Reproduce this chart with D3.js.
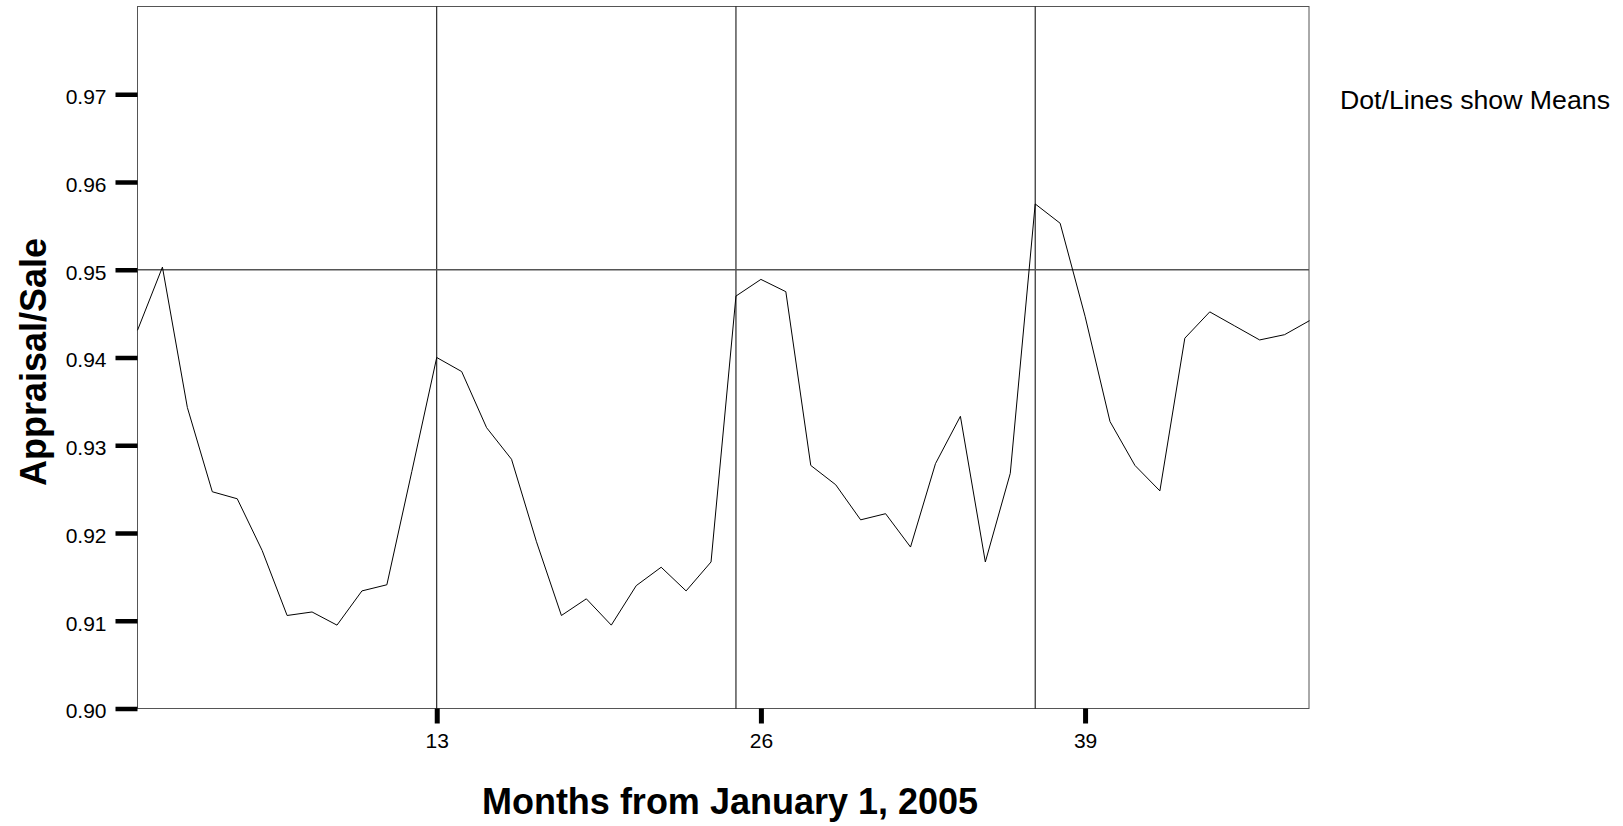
<!DOCTYPE html>
<html>
<head>
<meta charset="utf-8">
<script src="https://cdn.jsdelivr.net/npm/d3@7"></script>
<style>
  html, body { margin: 0; padding: 0; background: #fff; }
  svg { display: block; }
  text { font-family: "Liberation Sans", Arial, Helvetica, sans-serif; fill: #000; }
</style>
</head>
<body>
<svg id="chart" width="1623" height="826"></svg>
<script>
// ---- data ----
const months = d3.range(1, 49);
const ratio = [
  0.9431, 0.9503, 0.9343, 0.9247, 0.9239, 0.9180, 0.9106, 0.9110, 0.9095, 0.9134,
  0.9141, 0.9270, 0.9400, 0.9384, 0.9320, 0.9284, 0.9190, 0.9106, 0.9125, 0.9095,
  0.9140, 0.9161, 0.9134, 0.9167, 0.9470, 0.9489, 0.9475, 0.9277, 0.9255, 0.9215,
  0.9222, 0.9184, 0.9279, 0.9333, 0.9167, 0.9268, 0.9575, 0.9553, 0.9447, 0.9327,
  0.9277, 0.9248, 0.9422, 0.9452, 0.9436, 0.9420, 0.9426, 0.9442
];
const yTicks = [0.90, 0.91, 0.92, 0.93, 0.94, 0.95, 0.96, 0.97];
const xTicks = [13, 26, 39];
const vRefs = [13, 25, 37];
const hRefs = [0.95];
const yTitle = "Appraisal/Sale";
const xTitle = "Months from January 1, 2005";
const note = "Dot/Lines show Means";

// ---- layout ----
const L = 137.5, R = 1309, T = 6.5, B = 708.5;
const svg = d3.select("#chart");
const x = d3.scaleLinear().domain([1, 48]).range([L, R + 0.5]);
const y = d3.scaleLinear().domain([0.90, 0.98]).range([B, T]);

// frame
svg.append("rect")
  .attr("x", L).attr("y", T).attr("width", R - L).attr("height", B - T)
  .attr("fill", "none").attr("stroke", "#555").attr("stroke-width", 1);

// reference lines
svg.selectAll("line.vref").data(vRefs).enter().append("line")
  .attr("class", "vref")
  .attr("x1", d => x(d)).attr("x2", d => x(d))
  .attr("y1", T).attr("y2", B)
  .attr("stroke", "#000").attr("stroke-width", 1);

svg.selectAll("line.href").data(hRefs).enter().append("line")
  .attr("class", "href")
  .attr("x1", L).attr("x2", R)
  .attr("y1", d => y(d)).attr("y2", d => y(d))
  .attr("stroke", "#555").attr("stroke-width", 1.4);

// data line
const line = d3.line().x((d, i) => x(months[i])).y(d => y(d));
svg.append("path")
  .datum(ratio)
  .attr("d", line)
  .attr("fill", "none")
  .attr("stroke", "#000")
  .attr("stroke-width", 1);

// y axis
const yAxis = d3.axisLeft(y).tickValues(yTicks).tickFormat(d3.format(".2f"))
  .tickSize(22).tickPadding(9);
const gy = svg.append("g").attr("transform", `translate(${L},0)`).call(yAxis);
gy.select(".domain").remove();
gy.selectAll(".tick line").attr("stroke", "#000").attr("stroke-width", 4.5);
gy.selectAll(".tick text").attr("font-size", 21).attr("dy", "0.45em")
  .style("font-family", "'Liberation Sans', Arial, sans-serif").attr("fill", "#000");

// x axis
const xAxis = d3.axisBottom(x).tickValues(xTicks).tickFormat(d3.format("d"))
  .tickSize(15).tickPadding(10);
const gx = svg.append("g").attr("transform", `translate(0,${B})`).call(xAxis);
gx.select(".domain").remove();
gx.selectAll(".tick line").attr("stroke", "#000").attr("stroke-width", 5);
gx.selectAll(".tick text").attr("font-size", 21)
  .style("font-family", "'Liberation Sans', Arial, sans-serif").attr("fill", "#000");

// titles
svg.append("text")
  .attr("x", 730).attr("y", 814)
  .attr("text-anchor", "middle")
  .attr("font-size", 36).attr("font-weight", "bold")
  .text(xTitle);

svg.append("text")
  .attr("transform", "translate(46,362) rotate(-90)")
  .attr("text-anchor", "middle")
  .attr("font-size", 36).attr("font-weight", "bold")
  .text(yTitle);

svg.append("text")
  .attr("x", 1340).attr("y", 108.5)
  .attr("font-size", 26.7)
  .text(note);
</script>
</body>
</html>
